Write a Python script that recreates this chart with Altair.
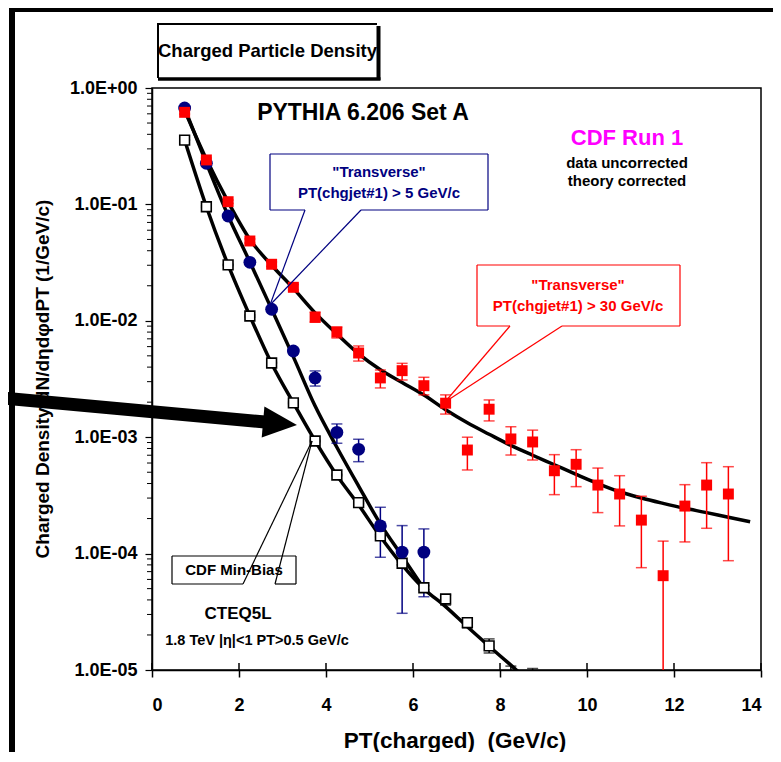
import altair as alt
import pandas as pd

# ---------------- data ----------------
red_pt = [0.75, 1.25, 1.75, 2.25, 2.75, 3.25, 3.75, 4.25, 4.75, 5.25, 5.75, 6.25, 6.75,
          7.25, 7.75, 8.25, 8.75, 9.25, 9.75, 10.25, 10.75, 11.25, 11.75, 12.25, 12.75, 13.25]
red_val = [0.618, 0.241, 0.1055, 0.0485, 0.0306, 0.0194, 0.0107, 0.0080, 0.00529, 0.00323,
           0.00373, 0.00277, 0.00196, 0.000776, 0.00174, 0.000966, 0.00091, 0.000515,
           0.000585, 0.000388, 0.000325, 0.000194, 6.46e-5, 0.000256, 0.000388, 0.000325]
red_hi = [0.64, 0.25, 0.109, 0.0505, 0.032, 0.0205, 0.0119, 0.00885, 0.00608, 0.00378,
          0.00431, 0.00327, 0.00231, 0.001, 0.00209, 0.00123, 0.00115, 0.000708,
          0.000781, 0.000543, 0.000467, 0.000311, 0.000128, 0.000391, 0.000604, 0.000558]
red_lo = [0.597, 0.232, 0.102, 0.0466, 0.0293, 0.0184, 0.00977, 0.00712, 0.00451, 0.00265,
          0.0031, 0.00231, 0.00158, 0.000523, 0.00138, 0.000703, 0.000637, 0.000321,
          0.000376, 0.000225, 0.000173, 7.57e-5, 1e-7, 0.000126, 0.000165, 8.69e-5]

blue_pt = [0.75, 1.25, 1.75, 2.25, 2.75, 3.25, 3.75, 4.25, 4.75, 5.25, 5.75, 6.25]
blue_val = [0.673, 0.2255, 0.0795, 0.0318, 0.01256, 0.0055, 0.00323, 0.0011, 0.000787,
            0.000173, 0.000103, 0.000103]
blue_hi = [0.69, 0.232, 0.082, 0.033, 0.013, 0.0058, 0.00371, 0.0013, 0.00096,
           0.00025, 0.000174, 0.000163]
blue_lo = [0.656, 0.219, 0.077, 0.0306, 0.0121, 0.0052, 0.00275, 0.000887, 0.000616,
           9.3e-5, 3.07e-5, 4.26e-5]

mb_pt = [0.75, 1.25, 1.75, 2.25, 2.75, 3.25, 3.75, 4.25, 4.75, 5.25, 5.75, 6.25, 6.75,
         7.25, 7.75, 8.25, 8.75]
mb_val = [0.357, 0.0955, 0.0302, 0.011, 0.00434, 0.00197, 0.000927, 0.000473, 0.000274,
          0.000142, 8.26e-5, 5.09e-5, 4.07e-5, 2.55e-5, 1.61e-5, 8e-6, 6e-6]
mb_hi = [0.36, 0.097, 0.0306, 0.0112, 0.0044, 0.002, 0.00094, 0.00048, 0.000279,
         0.000145, 8.5e-5, 5.3e-5, 4.41e-5, 2.8e-5, 1.85e-5, 1.08e-5, 1.03e-5]
mb_lo = [0.354, 0.094, 0.0298, 0.0108, 0.0043, 0.00194, 0.000914, 0.000466, 0.000269,
         0.000139, 8.0e-5, 4.9e-5, 3.61e-5, 2.3e-5, 1.4e-5, 6e-6, 4e-6]

# theory curves (PYTHIA 6.206 Set A)
th_red_pt = [0.75, 1.25, 1.75, 2.25, 2.75, 3.25, 3.75, 4.25, 4.75, 5.25, 5.75, 6.25, 6.75,
             7.25, 7.75, 8.25, 8.75, 9.25, 9.75, 10.25, 10.75, 11.25, 11.75, 12.25, 12.75,
             13.25, 13.75]
th_red_val = [0.64, 0.245, 0.105, 0.05, 0.03, 0.019, 0.0117, 0.0077, 0.0052, 0.0038,
              0.00295, 0.0023, 0.00172, 0.00133, 0.00106, 0.00085, 0.00070, 0.00058,
              0.00048, 0.00040, 0.00034, 0.000300, 0.000270, 0.000245, 0.000225,
              0.000205, 0.000188]
th_blue_pt = [0.75, 1.25, 1.75, 2.25, 2.75, 3.25, 3.75, 4.25, 4.75, 5.25, 5.75, 6.25]
th_blue_val = [0.67, 0.226, 0.08, 0.032, 0.0126, 0.0049, 0.00185, 0.00082, 0.00038,
               0.00018, 9.5e-5, 5.0e-5]
th_mb_pt = [0.75, 1.25, 1.75, 2.25, 2.75, 3.25, 3.75, 4.25, 4.75, 5.25, 5.75, 6.25, 6.75,
            7.25, 7.75, 8.25, 8.75]
th_mb_val = [0.357, 0.0955, 0.0302, 0.011, 0.0043, 0.00197, 0.00093, 0.00047, 0.000262,
             0.00014, 8.0e-5, 5.0e-5, 3.5e-5, 2.35e-5, 1.6e-5, 1.1e-5, 7.5e-6]

x_ticks = [0, 2, 4, 6, 8, 10, 12, 14]
y_ticks = [1e-5, 1e-4, 1e-3, 1e-2, 1e-1, 1]
y_minor = [m * 10 ** e for e in range(-5, 0) for m in range(2, 10)]

# ---------------- styling ----------------
F = "Liberation Sans, Arial, sans-serif"
NAVY = "#000080"
RED = "#ff0000"
W, H = 609, 582

XS = alt.Scale(domain=[0, 14], nice=False, zero=False)
YS = alt.Scale(type="log", domain=[1e-5, 1], nice=False)
XAX = alt.Axis(title=None, values=x_ticks, tickSize=7, labelPadding=19, labelFontSize=18,
               grid=False, domainWidth=1.5, tickWidth=1.5)
YAX = alt.Axis(title=None, values=y_ticks, tickSize=7, labelPadding=8, labelFontSize=18,
               grid=False, domainWidth=1.5, tickWidth=1.2,
               labelExpr="datum.value >= 1 ? '1.0E+00' : '1.0E-0' + round(-log(datum.value)/LN10)")


def X(f="x"):
    return alt.X(f + ":Q", scale=XS, axis=XAX)


def Y(f="y"):
    return alt.Y(f + ":Q", scale=YS, axis=YAX)


def df(xs, ys, lo=None, hi=None):
    d = {"x": xs, "y": ys}
    if lo is not None:
        d["lo"] = lo
        d["hi"] = hi
    return pd.DataFrame(d)


red_df = df(red_pt, red_val, red_lo, red_hi)
blue_df = df(blue_pt, blue_val, blue_lo, blue_hi)
mb_df = df(mb_pt, mb_val, mb_lo, mb_hi)

layers = []

# minor y ticks and inward x ticks
layers.append(alt.Chart(pd.DataFrame({"y": y_minor})).mark_rule(color="black", strokeWidth=1)
              .encode(y=Y(), x=alt.value(-5), x2=alt.value(0)))
layers.append(alt.Chart(pd.DataFrame({"x": x_ticks})).mark_rule(color="black", strokeWidth=1.5)
              .encode(x=X(), y=alt.value(H - 7), y2=alt.value(H)))

# theory curves
for xs, ys in [(th_mb_pt, th_mb_val), (th_blue_pt, th_blue_val), (th_red_pt, th_red_val)]:
    layers.append(alt.Chart(df(xs, ys)).mark_line(color="black", strokeWidth=3.5,
                                                  interpolate="monotone", clip=True)
                  .encode(x=X(), y=Y()))

# error bars
for d, c in [(mb_df, "black"), (blue_df, NAVY), (red_df, RED)]:
    layers.append(alt.Chart(d).mark_rule(color=c, strokeWidth=1.5, clip=True)
                  .encode(x=X(), y=Y("lo"), y2="hi:Q"))
    for f in ["lo", "hi"]:
        layers.append(alt.Chart(d).mark_tick(color=c, orient="horizontal", size=11,
                                             thickness=1.5, clip=True)
                      .encode(x=X(), y=Y(f)))

# points
layers.append(alt.Chart(mb_df).mark_square(size=95, filled=True, color="white", stroke="black",
                                           strokeWidth=1.6, opacity=1, clip=True)
              .encode(x=X(), y=Y()))
layers.append(alt.Chart(blue_df).mark_circle(size=165, color=NAVY, opacity=1, clip=True)
              .encode(x=X(), y=Y()))
layers.append(alt.Chart(red_df).mark_square(size=120, color=RED, opacity=1, clip=True)
              .encode(x=X(), y=Y()))

# ---------------- annotations (pixel positions, relative to plot origin) ----------------
ONE = pd.DataFrame({"k": [0]})


def txt(s, x, y, size, color="black", angle=0):
    return alt.Chart(ONE).mark_text(text=s, font=F, fontWeight="bold", fontSize=size,
                                    color=color, align="center", baseline="middle",
                                    angle=angle).encode(x=alt.value(x), y=alt.value(y))


def seg(x1, y1, x2, y2, color="black", w=1.0, cap="butt"):
    return alt.Chart(ONE).mark_rule(color=color, strokeWidth=w, strokeCap=cap).encode(
        x=alt.value(x1), y=alt.value(y1), x2=alt.value(x2), y2=alt.value(y2))


def fillrect(x1, y1, x2, y2, fill="white"):
    return alt.Chart(ONE).mark_rect(fill=fill, opacity=1).encode(
        x=alt.value(x1), x2=alt.value(x2), y=alt.value(y1), y2=alt.value(y2))


def callout(x1, y1, x2, y2, gx1, gx2, tip, color, w=1.2):
    out = [fillrect(x1, y1, x2, y2)]
    out += [seg(x1, y1, x2, y1, color, w), seg(x1, y1, x1, y2, color, w),
            seg(x2, y1, x2, y2, color, w), seg(x1, y2, gx1, y2, color, w),
            seg(gx2, y2, x2, y2, color, w),
            seg(gx1, y2, tip[0], tip[1], color, w), seg(gx2, y2, tip[0], tip[1], color, w)]
    return out


layers.append(txt("PYTHIA 6.206 Set A", 211, 25, 23))
layers.append(txt("CDF Run 1", 475, 50, 22, color="#ff00ff"))
layers.append(txt("data uncorrected", 475, 75, 15))
layers.append(txt("theory corrected", 475, 93, 15))

layers += callout(118, 66, 336, 122, 153, 209, (118, 217), NAVY)
layers.append(txt('"Transverse"', 227, 84, 15, color=NAVY))
layers.append(txt("PT(chgjet#1) > 5 GeV/c", 227, 105, 15, color=NAVY))

layers += callout(325, 177, 528, 238, 358, 410, (293, 314), RED)
layers.append(txt('"Transverse"', 426, 197, 15, color=RED))
layers.append(txt("PT(chgjet#1) > 30 GeV/c", 426, 218, 15, color=RED))

layers += callout(20, 468, 144, 496, 91, 123, (160, 353), "black")
layers.append(txt("CDF Min-Bias", 82, 482, 15))

layers.append(txt("CTEQ5L", 86, 526, 17))
layers.append(txt("1.8 TeV |\u03b7|<1 PT>0.5 GeV/c", 105, 553, 14.5))

# axis titles
layers.append(txt("Charged Density dN/d\u03b7d\u03c6dPT (1/GeV/c)", -109, 291, 19, angle=270))
layers.append(txt("PT(charged)\u00a0 (GeV/c)", 303, 653, 22.5))

# big arrow
layers.append(seg(-160, 309, 113, 334, "black", 13))
layers.append(alt.Chart(ONE).mark_point(shape="M-1,-0.91L1,0L-1,0.91Z", size=1156, filled=True,
                                        color="black", opacity=1, angle=5)
              .encode(x=alt.value(128), y=alt.value(335.5)))

# title box with drop shadow
layers.append(fillrect(6, -64, 225, -10))
layers.append(seg(6, -64, 225, -64, "black", 2))
layers.append(seg(6, -65, 6, -10, "black", 2))
layers.append(seg(226.5, -62, 226.5, -8, "black", 4))
layers.append(seg(6, -9, 228.5, -9, "black", 3.5))
layers.append(txt("Charged Particle Density", 115.5, -37, 18.5))

# outer slide frame
layers.append(seg(-140, -82, -140, 700, "black", 6))
layers.append(seg(-143, -79, 700, -79, "black", 6))

chart = alt.layer(*layers).properties(
    width=W, height=H,
    autosize=alt.AutoSizeParams(type="none"),
    padding={"left": 144, "top": 80, "right": 12, "bottom": 82},
).configure_view(stroke="black", strokeWidth=1.5).configure_axis(
    labelFont=F, labelFontWeight="bold", labelColor="black",
    domainColor="black", tickColor="black")

chart.save("out.html", embed_options={"renderer": "svg", "actions": False})
